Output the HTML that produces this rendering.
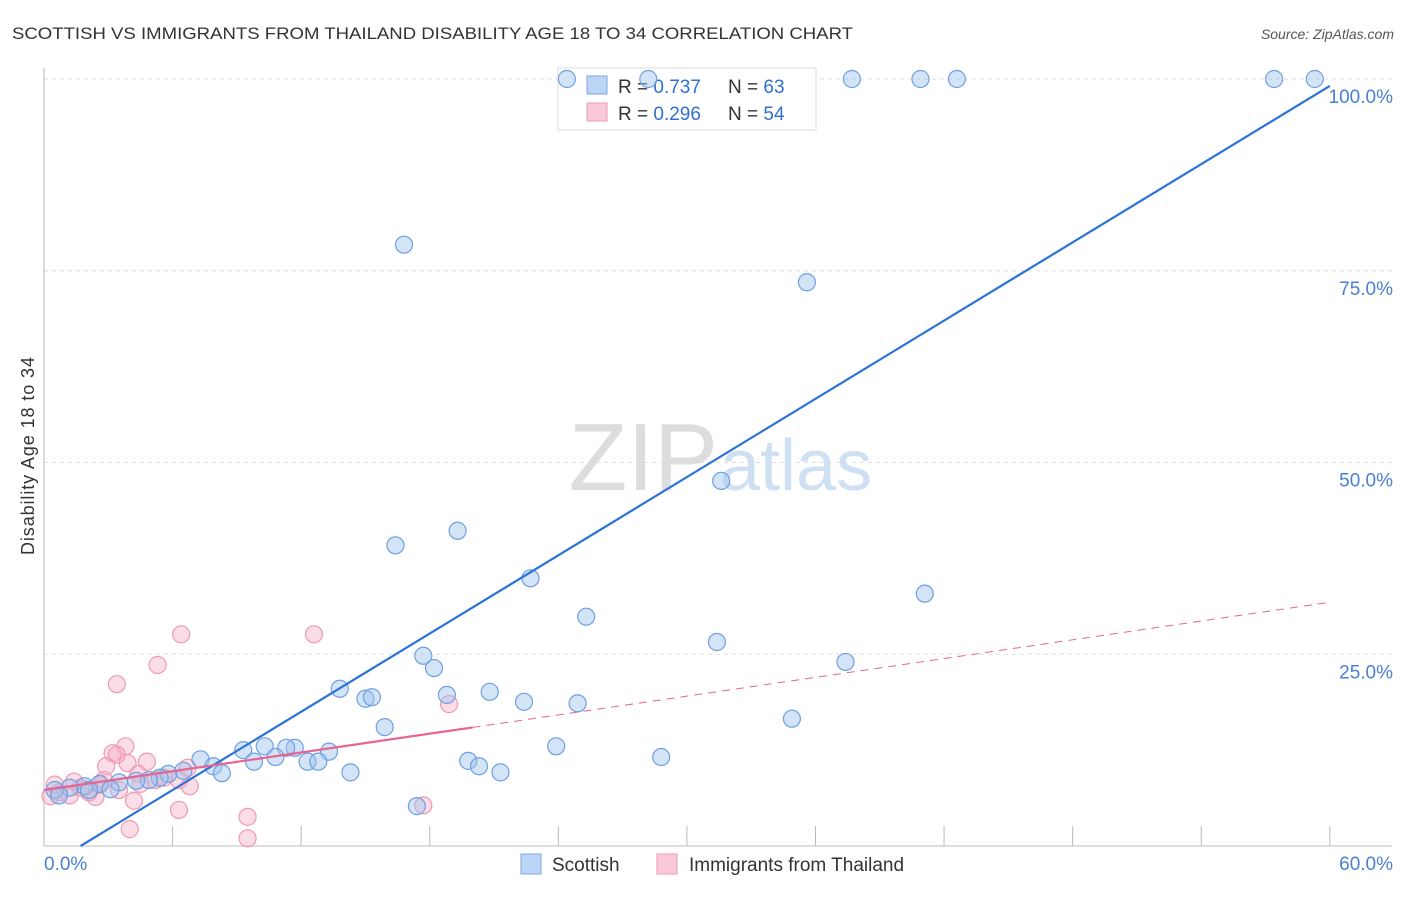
<!DOCTYPE html>
<html><head><meta charset="utf-8"><style>
body{margin:0;background:#fff;font-family:"Liberation Sans",sans-serif}
svg text{font-family:"Liberation Sans",sans-serif}
</style></head><body>
<svg id="chart" width="1406" height="892">
<text x="12" y="39" font-size="17" fill="#333" textLength="841" lengthAdjust="spacingAndGlyphs">SCOTTISH VS IMMIGRANTS FROM THAILAND DISABILITY AGE 18 TO 34 CORRELATION CHART</text>
<text x="1394" y="39" font-size="14" fill="#555" font-style="italic" text-anchor="end">Source: ZipAtlas.com</text>
<text x="34" y="456" font-size="18" fill="#333" transform="rotate(-90 34 456)" text-anchor="middle" textLength="198">Disability Age 18 to 34</text>
<g id="grid"></g>
<text x="718" y="490" font-size="96" fill="#ddd" text-anchor="end" font-family="Liberation Serif">ZIP</text>
<text x="720" y="490" font-size="72" fill="#cfe0f3">atlas</text>
<g>
<rect x="558" y="68" width="258" height="62" fill="#fff" stroke="#ddd"/>
<rect x="587" y="76" width="20" height="18" fill="#bcd5f5" stroke="#7aa8e6"/>
<rect x="587" y="103" width="20" height="18" fill="#f9c9d7" stroke="#ee9ab2"/>
<text x="618" y="93" font-size="19" fill="#333">R = <tspan fill="#2f6fd0">0.737</tspan></text>
<text x="728" y="93" font-size="19" fill="#333">N = <tspan fill="#2f6fd0">63</tspan></text>
<text x="618" y="120" font-size="19" fill="#333">R = <tspan fill="#2f6fd0">0.296</tspan></text>
<text x="728" y="120" font-size="19" fill="#333">N = <tspan fill="#2f6fd0">54</tspan></text>
</g>
<g id="pts"></g>
<g id="lines"></g>
<g>
<rect x="521" y="854" width="20" height="20" fill="#bcd5f5" stroke="#7aa8e6"/>
<text x="552" y="871" font-size="19" fill="#333">Scottish</text>
<rect x="657" y="854" width="20" height="20" fill="#f9c9d7" stroke="#ee9ab2"/>
<text x="689" y="871" font-size="19" fill="#333">Immigrants from Thailand</text>
</g>
</svg>
<script>
const xTicks=[0,60];
const yTicks=[25,50,75,100];
const blueX=[24.4,28.2,37.7,40.9,42.6,57.4,59.3,16.8,35.6,31.6,16.4,19.3,22.7,25.3,41.1,31.4,37.4,17.7,18.2,13.8,15.0,15.3,18.8,20.8,22.4,24.9,34.9,15.9,23.9,28.8,19.8,20.3,21.3,14.3,17.4,10.3,11.7,11.3,9.3,13.3,10.8,9.8,12.3,12.8,7.3,7.9,8.3,6.5,5.8,5.4,4.9,4.3,3.5,2.6,1.9,1.2,0.5,3.1,0.7,2.1];
const blueY=[100,100,100,100,100,100,100,78.4,73.5,47.6,39.2,41.1,34.9,29.9,32.9,26.6,24.0,24.8,23.2,20.5,19.2,19.4,19.7,20.1,18.8,18.6,16.6,15.5,13.0,11.6,11.1,10.4,9.6,9.6,5.2,13.0,12.8,12.8,12.5,12.3,11.6,11.0,11.0,11.0,11.3,10.4,9.5,9.8,9.4,8.9,8.6,8.5,8.3,8.1,7.8,7.6,7.3,7.4,6.6,7.3];
const pinkX=[6.4,12.6,5.3,3.4,18.9,17.7,3.8,3.2,3.4,4.8,2.9,3.9,6.7,4.4,6.3,6.8,4.2,6.3,9.5,4.0,9.5,5.2,3.5,2.6,1.7,0.7,0.3,1.2,2.1,2.8,4.5,5.6,1.4,2.4,0.5];
const pinkY=[27.6,27.6,23.6,21.1,18.5,5.3,13.0,12.1,11.9,11.0,10.4,10.8,10.2,9.4,8.6,7.8,5.9,4.7,3.8,2.2,1.0,8.6,7.3,8.0,7.6,7.0,6.5,6.6,7.0,8.6,8.1,8.9,8.4,6.4,8.0];
const blueLine=[-2.9,1.70];
const pinkLine=[7.3,0.408];
const pinkSolidEnd=20;
const NS='http://www.w3.org/2000/svg';
const X=v=>44+v*21.43, Y=v=>846-v*7.67;
function mk(t,a,p){const e=document.createElementNS(NS,t);for(const k in a)e.setAttribute(k,a[k]);p.appendChild(e);return e;}
const g=document.getElementById('grid');
yTicks.forEach(t=>{
 const l=mk('line',{x1:44,x2:1392,y1:Y(t),y2:Y(t),stroke:'#ddd','stroke-dasharray':'4,4'},g);
 
 
 const tx=mk('text',{x:1393,y:Y(t)+24,'font-size':19,fill:'#4a7fd4','text-anchor':'end'},g);tx.textContent=t.toFixed(1)+'%';
 
 
});
mk('line',{x1:44,x2:44,y1:68,y2:846,stroke:'#bbb'},g);
mk('line',{x1:44,x2:1392,y1:846,y2:846,stroke:'#bbb'},g);
for(let i=1;i<=10;i++){const x=X(i*6);mk('line',{x1:x,x2:x,y1:826,y2:846,stroke:'#bbb'},g);}
xTicks.forEach((t,i)=>{const tx=mk('text',{x:i?1393:44,y:870,'font-size':19,fill:'#4a7fd4','text-anchor':i?'end':'start'},g);tx.textContent=t.toFixed(1)+'%';
 
 });
const p=document.getElementById('pts');
pinkX.forEach((x,i)=>{const c=mk('circle',{cx:X(x),cy:Y(pinkY[i]),r:8.5,fill:'rgba(246,170,195,0.4)',stroke:'#ee9ab2','stroke-width':1.2},p);
 
 });
blueX.forEach((x,i)=>{const c=mk('circle',{cx:X(x),cy:Y(blueY[i]),r:8.5,fill:'rgba(160,195,238,0.45)',stroke:'#6d9fe3','stroke-width':1.2},p);
 
 });
const L=document.getElementById('lines');
const x0=(0-blueLine[0])/blueLine[1];
const bl=mk('line',{x1:X(x0),y1:Y(0),x2:X(60),y2:Y(blueLine[0]+blueLine[1]*60),stroke:'#2b73d6','stroke-width':2.2},L);


const ps=mk('line',{x1:X(0),y1:Y(pinkLine[0]),x2:X(pinkSolidEnd),y2:Y(pinkLine[0]+pinkLine[1]*pinkSolidEnd),stroke:'#e8638f','stroke-width':2.2},L);


const pd=mk('line',{x1:X(pinkSolidEnd),y1:Y(pinkLine[0]+pinkLine[1]*pinkSolidEnd),x2:X(60),y2:Y(pinkLine[0]+pinkLine[1]*60),stroke:'#e8638f','stroke-width':1,'stroke-dasharray':'8,6'},L);


</script>
</body></html>
